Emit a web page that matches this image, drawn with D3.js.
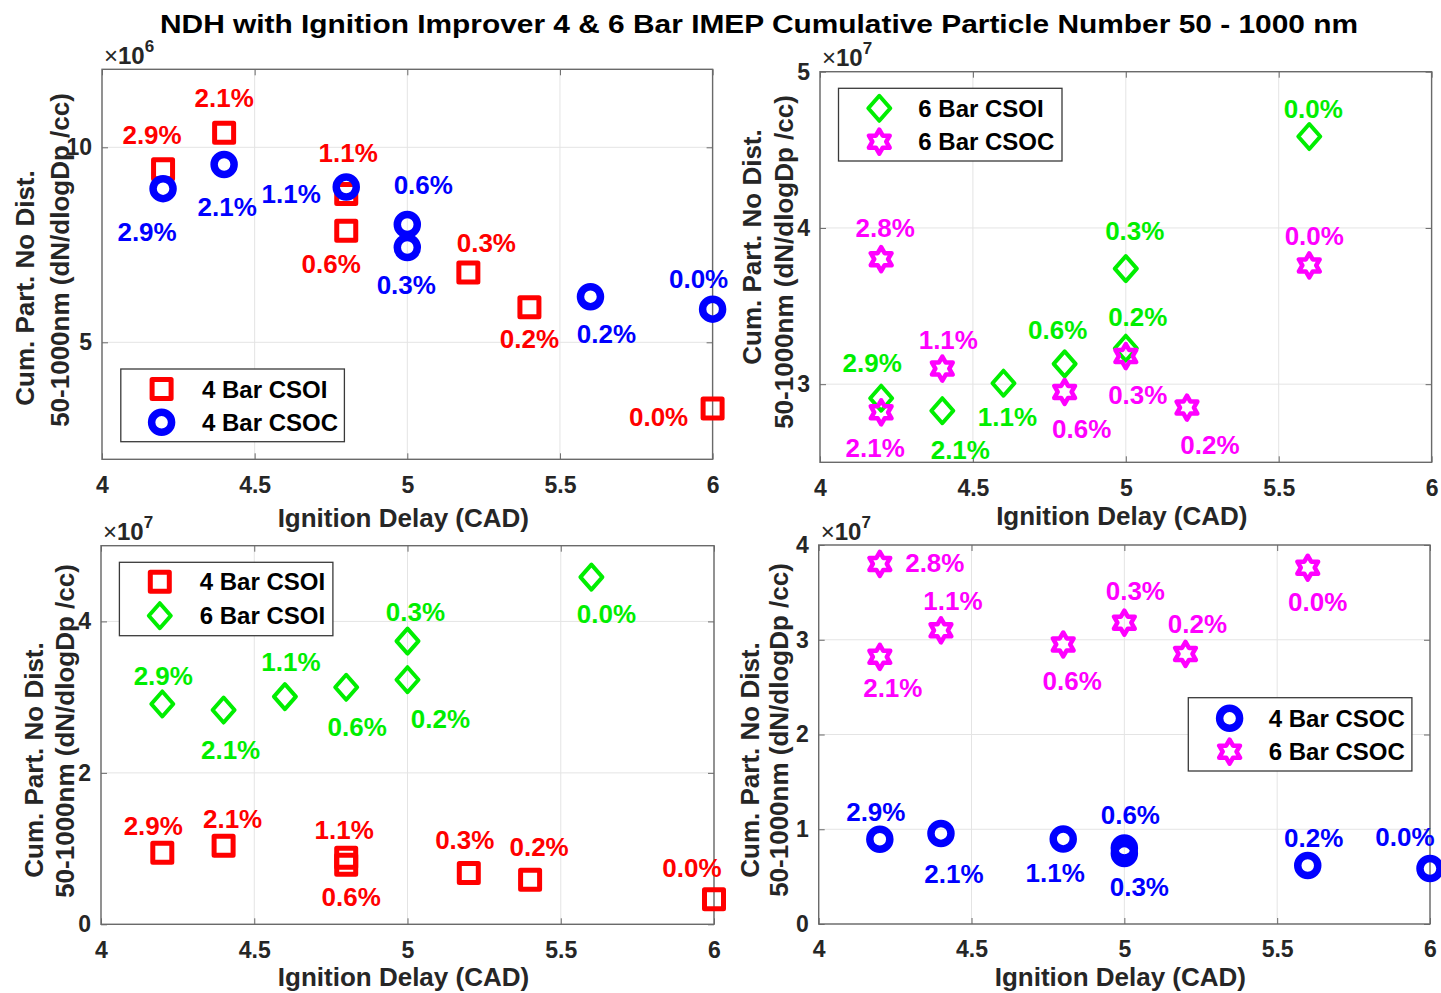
<!DOCTYPE html>
<html>
<head>
<meta charset="utf-8">
<script src="https://cdn.jsdelivr.net/npm/d3@7"></script>
<style>
body { margin: 0; background: #fff; }
text { font-family: "Liberation Sans", Arial, Helvetica, sans-serif; }
</style>
</head>
<body>
<svg id="chart" width="1441" height="993"></svg>
<script>
// values
var xTicks = [4, 4.5, 5, 5.5, 6];

var csoi4Delay  = [4.2, 4.4, 4.8, 4.8, 5.2, 5.4, 6.0];
var csoi4Count  = [9.44e6, 10.37e6, 8.8e6, 7.86e6, 6.79e6, 5.9e6, 3.3e6];
var csoi4Labels = ["2.9%", "2.1%", "1.1%", "0.6%", "0.3%", "0.2%", "0.0%"];

var csoc4Delay  = [4.2, 4.4, 4.8, 5.0, 5.0, 5.6, 6.0];
var csoc4Count  = [8.94e6, 9.56e6, 8.98e6, 8.02e6, 7.43e6, 6.17e6, 5.85e6];
var csoc4Labels = ["2.9%", "2.1%", "1.1%", "0.6%", "0.3%", "0.2%", "0.0%"];

var csoi6Delay  = [4.2, 4.4, 4.6, 4.8, 5.0, 5.0, 5.6];
var csoi6Count  = [2.91e7, 2.83e7, 3.006e7, 3.13e7, 3.74e7, 3.23e7, 4.585e7];
var csoi6Labels = ["2.9%", "2.1%", "1.1%", "0.6%", "0.3%", "0.2%", "0.0%"];

var csoc6Delay  = [4.2, 4.2, 4.4, 4.8, 5.0, 5.2, 5.6];
var csoc6Count  = [3.80e7, 2.82e7, 3.10e7, 2.95e7, 3.18e7, 2.85e7, 3.76e7];
var csoc6Labels = ["2.8%", "2.1%", "1.1%", "0.6%", "0.3%", "0.2%", "0.0%"];

var titleText = "NDH with Ignition Improver 4 & 6 Bar IMEP Cumulative Particle Number 50 - 1000 nm";
var xLabel = "Ignition Delay (CAD)";
var yLabel1 = "Cum. Part. No Dist.";
var yLabel2 = "50-1000nm (dN/dlogDp /cc)";

var series = {
  csoi4: {name: "4 Bar CSOI", x: csoi4Delay, y: csoi4Count, labels: csoi4Labels, color: "#ff0000", shape: "square"},
  csoc4: {name: "4 Bar CSOC", x: csoc4Delay, y: csoc4Count, labels: csoc4Labels, color: "#0000ff", shape: "circle"},
  csoi6: {name: "6 Bar CSOI", x: csoi6Delay, y: csoi6Count, labels: csoi6Labels, color: "#00ee00", shape: "diamond"},
  csoc6: {name: "6 Bar CSOC", x: csoc6Delay, y: csoc6Count, labels: csoc6Labels, color: "#ff00ff", shape: "hexagram"}
};

// layout of the four subplots (pixel positions, label offsets)
var panels = [
  {left: 102, right: 712.6, top: 69.3, bottom: 459.3, yDomain: [2e6, 12e6], yTicks: [5e6, 10e6], power: 6,
   plots: [
     {key: "csoi4", off: [[-11, -34], [0, -35], [2, -41], [-15, 33], [18, -30], [0, 31], [-54, 8]]},
     {key: "csoc4", off: [[-16, 43], [3, 42], [-55, 7], [16, -40], [-1, 37], [16, 37], [-14, -30]]}
   ],
   legend: {x0: 120.8, y0: 369, x1: 344.4, y1: 441.7, mx: 161.6, tx: 202, rows: [389, 422.3]},
   ylab: [[25, 288], [60, 260]], xlabY: 527},
  {left: 820, right: 1431.6, top: 71.7, bottom: 462.3, yDomain: [2.5e7, 5e7], yTicks: [3e7, 4e7, 5e7], power: 7,
   plots: [
     {key: "csoi6", off: [[-9, -36], [18, 39], [4, 33], [-7, -34], [9, -38], [12, -32], [4, -28]]},
     {key: "csoc6", off: [[4, -31], [-6, 35], [6, -29], [17, 37], [12, 39], [23, 37], [5, -30]]}
   ],
   legend: {x0: 838.5, y0: 88.3, x1: 1062, y1: 161, mx: 879.3, tx: 918.3, rows: [108.3, 141.7]},
   ylab: [[752, 247], [784, 262]], xlabY: 525},
  {left: 101, right: 714, top: 545.7, bottom: 924.3, yDomain: [0, 5e7], yTicks: [0, 2e7, 4e7], power: 7,
   plots: [
     {key: "csoi4", off: [[-9, -27], [9, -27], [-2, -28], [5, 32], [-4, -33], [9, -33], [-22, -32]]},
     {key: "csoi6", off: [[1, -28], [7, 40], [6, -35], [11, 39], [8, -29], [33, 39], [15, 37]]}
   ],
   legend: {x0: 119.4, y0: 562.3, x1: 332.9, y1: 635.7, mx: 159.8, tx: 199.7, rows: [581.7, 615.7]},
   ylab: [[34, 760], [65, 731]], xlabY: 986},
  {left: 818.7, right: 1430, top: 545, bottom: 924, yDomain: [0, 4e7], yTicks: [0, 1e7, 2e7, 3e7, 4e7], power: 7,
   plots: [
     {key: "csoc4", off: [[-4, -28], [13, 40], [-8, 34], [6, -33], [15, 33], [6, -28], [-25, -32]]},
     {key: "csoc6", off: [[55, -1], [13, 31], [12, -30], [9, 36], [11, -32], [12, -30], [10, 34]]}
   ],
   legend: {x0: 1188.3, y0: 697.7, x1: 1411.9, y1: 771, mx: 1229.6, tx: 1268.7, rows: [718.3, 751.7]},
   ylab: [[750, 760], [779, 730]], xlabY: 986}
];

var boxColor = "#6a6a6a";
var gridColor = "#e4e4e4";
var tickColor = "#262626";

function markerPath(shape) {
  if (shape == "square") return "M-9.5,-9.5H9.5V9.5H-9.5Z";
  if (shape == "circle") return "M10,0A10,10 0 1,1 -10,0A10,10 0 1,1 10,0Z";
  if (shape == "diamond") return "M0,-12.5L11,0L0,12.5L-11,0Z";
  // six pointed star, point up
  var pts = [];
  for (var i = 0; i < 12; i++) {
    var a = -Math.PI / 2 + i * Math.PI / 6;
    var r = i % 2 == 0 ? 12 : 12 / Math.sqrt(3);
    pts.push([r * Math.cos(a), r * Math.sin(a)]);
  }
  return d3.line()(pts) + "Z";
}

var strokeW = {square: 5, circle: 7.5, diamond: 4, hexagram: 4.5};

function drawMarker(g, shape, color, cx, cy) {
  g.append("path")
    .attr("d", markerPath(shape))
    .attr("transform", "translate(" + cx + "," + cy + ")")
    .attr("fill", "none")
    .attr("stroke", color)
    .attr("stroke-width", strokeW[shape])
    .attr("stroke-linejoin", "round");
}

var svg = d3.select("#chart");
svg.append("rect").attr("width", 1441).attr("height", 993).attr("fill", "#fff");

svg.append("text")
  .attr("x", 160).attr("y", 33)
  .attr("font-size", 26).attr("font-weight", "bold").attr("fill", "#000")
  .attr("textLength", 1198).attr("lengthAdjust", "spacingAndGlyphs")
  .text(titleText);

panels.forEach(function(p) {
  var x = d3.scaleLinear().domain([4, 6]).range([p.left, p.right]);
  var y = d3.scaleLinear().domain(p.yDomain).range([p.bottom, p.top]);
  var g = svg.append("g");
  var scaleDiv = Math.pow(10, p.power);

  // grid
  g.append("g").selectAll("line").data(xTicks).join("line")
    .attr("x1", d => x(d)).attr("x2", d => x(d))
    .attr("y1", p.top).attr("y2", p.bottom)
    .attr("stroke", gridColor).attr("stroke-width", 1);
  g.append("g").selectAll("line").data(p.yTicks).join("line")
    .attr("x1", p.left).attr("x2", p.right)
    .attr("y1", d => y(d)).attr("y2", d => y(d))
    .attr("stroke", gridColor).attr("stroke-width", 1);

  // axes, ticks pointing inwards
  var xAxis = g.append("g").attr("transform", "translate(0," + p.bottom + ")")
    .call(d3.axisBottom(x).tickValues(xTicks).tickSizeInner(-6).tickSizeOuter(0).tickPadding(17).tickFormat(d3.format("")));
  var yAxis = g.append("g").attr("transform", "translate(" + p.left + ",0)")
    .call(d3.axisLeft(y).tickValues(p.yTicks).tickSizeInner(-6).tickSizeOuter(0).tickPadding(10)
      .tickFormat(d => d3.format("")(Math.round(d / scaleDiv * 100) / 100)));
  var xTop = g.append("g").attr("transform", "translate(0," + p.top + ")")
    .call(d3.axisTop(x).tickValues(xTicks).tickSizeInner(-6).tickSizeOuter(0).tickFormat(""));
  var yRight = g.append("g").attr("transform", "translate(" + p.right + ",0)")
    .call(d3.axisRight(y).tickValues(p.yTicks).tickSizeInner(-6).tickSizeOuter(0).tickFormat(""));
  [xAxis, yAxis, xTop, yRight].forEach(function(a) {
    a.select(".domain").remove();
    a.selectAll(".tick line").attr("stroke", boxColor).attr("stroke-width", 1);
    a.selectAll("text")
      .attr("font-size", 23).attr("font-weight", "bold").attr("fill", tickColor);
  });

  g.append("rect")
    .attr("x", p.left).attr("y", p.top)
    .attr("width", p.right - p.left).attr("height", p.bottom - p.top)
    .attr("fill", "none").attr("stroke", boxColor).attr("stroke-width", 1.4);

  // exponent
  var ex = g.append("text").attr("x", p.left + 2).attr("y", p.top - 5.5)
    .attr("font-size", 24).attr("fill", tickColor);
  ex.append("tspan").text("\u00d7");
  ex.append("tspan").attr("font-weight", "bold").text("10");
  ex.append("tspan").attr("font-weight", "bold").attr("font-size", 17).attr("dy", -12).text(p.power);

  // markers then labels
  p.plots.forEach(function(pl) {
    var s = series[pl.key];
    s.x.forEach(function(v, i) {
      drawMarker(g, s.shape, s.color, x(v), y(s.y[i]));
    });
  });
  p.plots.forEach(function(pl) {
    var s = series[pl.key];
    g.append("g").selectAll("text").data(s.labels).join("text")
      .attr("x", (d, i) => x(s.x[i]) + pl.off[i][0])
      .attr("y", (d, i) => y(s.y[i]) + pl.off[i][1] + 9.3)
      .attr("text-anchor", "middle")
      .attr("font-size", 26).attr("font-weight", "bold")
      .attr("fill", s.color)
      .text(d => d);
  });

  // legend
  var L = p.legend;
  g.append("rect")
    .attr("x", L.x0).attr("y", L.y0).attr("width", L.x1 - L.x0).attr("height", L.y1 - L.y0)
    .attr("fill", "#fff").attr("stroke", "#3a3a3a").attr("stroke-width", 1.3);
  p.plots.forEach(function(pl, i) {
    var s = series[pl.key];
    drawMarker(g, s.shape, s.color, L.mx, L.rows[i]);
    g.append("text").attr("x", L.tx).attr("y", L.rows[i] + 8.6)
      .attr("font-size", 24).attr("font-weight", "bold").attr("fill", "#000")
      .text(s.name);
  });

  // axis labels
  g.append("text")
    .attr("x", (p.left + p.right) / 2 - 4).attr("y", p.xlabY)
    .attr("text-anchor", "middle")
    .attr("font-size", 26).attr("font-weight", "bold").attr("fill", tickColor)
    .text(xLabel);
  [yLabel1, yLabel2].forEach(function(t, i) {
    var xb = p.ylab[i][0] + 9.3, yc = p.ylab[i][1];
    g.append("text")
      .attr("transform", "translate(" + xb + "," + yc + ") rotate(-90)")
      .attr("text-anchor", "middle")
      .attr("font-size", 26).attr("font-weight", "bold").attr("fill", tickColor)
      .text(t);
  });
});
</script>
</body>
</html>
